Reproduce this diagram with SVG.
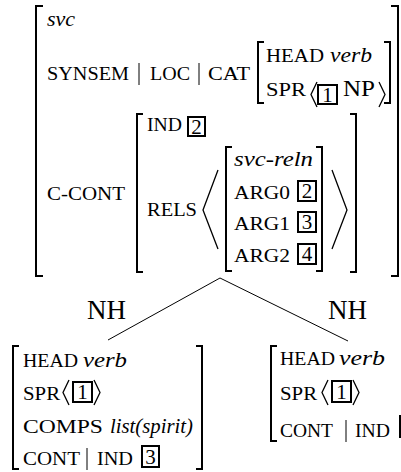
<svg xmlns="http://www.w3.org/2000/svg" width="401" height="472" viewBox="0 0 401 472" font-family="'Liberation Serif', 'DejaVu Serif', serif">
<style>
text{font-family:'Liberation Serif','DejaVu Serif',serif;fill:#000}
.f{font-size:19.5px}
.i{font-size:22px;font-style:italic}
.n{font-size:23px}
.nh{font-size:27px}
.d{font-size:21px;text-anchor:middle}
.bar{stroke:#000;stroke-width:1}
.br{fill:none;stroke:#000;stroke-width:2}
.ang{fill:none;stroke:#000;stroke-width:1.3}
.bx{fill:none;stroke:#000;stroke-width:2}
.c{stroke:#000;stroke-width:1;fill:none}
</style>
<rect width="401" height="472" fill="#fff"/>
<g id="mother">
<path class="br" d="M43,6H36V276H43"/>
<path class="br" d="M391,6H398V276H391"/>
<text class="i" x="47" y="26" font-size="23">svc</text>
<text class="f" x="47" y="80" textLength="82" lengthAdjust="spacingAndGlyphs">SYNSEM</text>
<line class="bar" x1="139" y1="63" x2="139" y2="85"/>
<text class="f" x="150" y="80" textLength="40" lengthAdjust="spacingAndGlyphs">LOC</text>
<line class="bar" x1="199" y1="63" x2="199" y2="85"/>
<text class="f" x="208" y="80" textLength="42" lengthAdjust="spacingAndGlyphs">CAT</text>
<path class="br" d="M264,42H258V103H264"/>
<path class="br" d="M384,42H390V103H384"/>
<text class="f" x="266" y="62" textLength="58" lengthAdjust="spacingAndGlyphs">HEAD</text>
<text class="i" x="330" y="62" textLength="42" lengthAdjust="spacingAndGlyphs">verb</text>
<text class="f" x="266" y="96" textLength="40" lengthAdjust="spacingAndGlyphs">SPR</text>
<polyline class="ang" points="317,82 311,94.5 317,107"/>
<rect class="bx" x="318" y="85" width="19" height="19"/>
<text class="d" x="327.5" y="101.5">1</text>
<text class="n" x="343" y="96" textLength="32" lengthAdjust="spacingAndGlyphs">NP</text>
<polyline class="ang" points="379,82 385,94.5 379,107"/>
<text class="f" x="47" y="200" textLength="78" lengthAdjust="spacingAndGlyphs">C-CONT</text>
<path class="br" d="M143,114H137V272H143"/>
<path class="br" d="M350,114H356V272H350"/>
<text class="f" x="147" y="131" textLength="35" lengthAdjust="spacingAndGlyphs">IND</text>
<rect class="bx" x="188" y="117" width="17" height="19"/>
<text class="d" x="196.5" y="133.5">2</text>
<text class="f" x="147" y="216" textLength="50" lengthAdjust="spacingAndGlyphs">RELS</text>
<polyline class="ang" points="218,170 203,210 218,249"/>
<path class="br" d="M232,147H226V271H232"/>
<path class="br" d="M316,147H322V271H316"/>
<text class="i" x="234" y="166" textLength="79" lengthAdjust="spacingAndGlyphs">svc-reln</text>
<text class="f" x="234" y="199" textLength="56" lengthAdjust="spacingAndGlyphs">ARG0</text>
<rect class="bx" x="298" y="181" width="18" height="20"/>
<text class="d" x="307" y="198">2</text>
<text class="f" x="234" y="230" textLength="56" lengthAdjust="spacingAndGlyphs">ARG1</text>
<rect class="bx" x="298" y="212" width="18" height="20"/>
<text class="d" x="307" y="229">3</text>
<text class="f" x="234" y="262" textLength="56" lengthAdjust="spacingAndGlyphs">ARG2</text>
<rect class="bx" x="298" y="244" width="18" height="20"/>
<text class="d" x="307" y="261">4</text>
<polyline class="ang" points="332,170 347,210 332,249"/>
</g>
<g id="connectors">
<line class="c" x1="220" y1="278" x2="108" y2="340"/>
<line class="c" x1="220" y1="278" x2="348" y2="341"/>
<text class="nh" x="87" y="319">NH</text>
<text class="nh" x="328" y="319">NH</text>
</g>
<g id="left-daughter">
<path class="br" d="M19,346H13V469H19"/>
<path class="br" d="M196,346H202V469H196"/>
<text class="f" x="23" y="367" textLength="55" lengthAdjust="spacingAndGlyphs">HEAD</text>
<text class="i" x="83" y="367" textLength="44" lengthAdjust="spacingAndGlyphs">verb</text>
<text class="f" x="23" y="400" textLength="37" lengthAdjust="spacingAndGlyphs">SPR</text>
<polyline class="ang" points="69,380 63,392.5 69,405"/>
<rect class="bx" x="73" y="382" width="19" height="20"/>
<text class="d" x="82.5" y="399">1</text>
<polyline class="ang" points="94,380 100,392.5 94,405"/>
<text class="f" x="23" y="433" textLength="80" lengthAdjust="spacingAndGlyphs">COMPS</text>
<text class="i" x="110" y="433" textLength="83" lengthAdjust="spacingAndGlyphs">list(spirit)</text>
<text class="f" x="23" y="465" textLength="57" lengthAdjust="spacingAndGlyphs">CONT</text>
<line class="bar" x1="87" y1="448" x2="87" y2="470"/>
<text class="f" x="97" y="465" textLength="36" lengthAdjust="spacingAndGlyphs">IND</text>
<rect class="bx" x="142" y="446" width="17" height="21"/>
<text class="d" x="150.5" y="463.5">3</text>
</g>
<g id="right-daughter">
<path class="br" d="M277,346H271V441H277"/>
<text class="f" x="280" y="365" textLength="55" lengthAdjust="spacingAndGlyphs">HEAD</text>
<text class="i" x="339" y="365" textLength="46" lengthAdjust="spacingAndGlyphs">verb</text>
<text class="f" x="280" y="400" textLength="37" lengthAdjust="spacingAndGlyphs">SPR</text>
<polyline class="ang" points="328,380 322,392.5 328,405"/>
<rect class="bx" x="332" y="381" width="19" height="21"/>
<text class="d" x="341.5" y="398.5">1</text>
<polyline class="ang" points="353,380 359,392.5 353,405"/>
<text class="f" x="280" y="437" textLength="53" lengthAdjust="spacingAndGlyphs">CONT</text>
<line class="bar" x1="346" y1="420" x2="346" y2="442"/>
<text class="f" x="355" y="437" textLength="35" lengthAdjust="spacingAndGlyphs">IND</text>
<line class="bx" x1="400" y1="415" x2="400" y2="438"/>
</g>
</svg>
